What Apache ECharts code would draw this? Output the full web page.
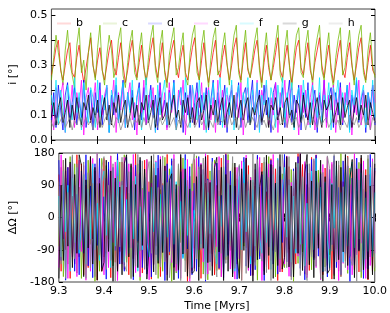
<!DOCTYPE html>
<html>
<head>
<meta charset="utf-8">
<script src="https://cdn.jsdelivr.net/npm/echarts@6/dist/echarts.min.js"></script>
<style>html,body{margin:0;padding:0;background:#fff}#c{width:390px;height:313px}</style>
</head>
<body>
<div id="c"></div>
<script>
const NAMES = ['b','c','d','e','f','g','h'];
const COLORS = ['#ff0000','#70b800','#0000ff','#ff00ff','#00e5ff','#000000','#888888'];
const X_TICKS = [9.3,9.4,9.5,9.6,9.7,9.8,9.9,10.0];
const TIME = [
9.300,9.305,9.310,9.315,9.320,9.325,9.330,9.335,9.340,9.345,
9.350,9.355,9.360,9.365,9.370,9.375,9.380,9.385,9.390,9.395,
9.400,9.405,9.410,9.415,9.420,9.425,9.430,9.435,9.440,9.445,
9.450,9.455,9.460,9.465,9.470,9.475,9.480,9.485,9.490,9.495,
9.500,9.505,9.510,9.515,9.520,9.525,9.530,9.535,9.540,9.545,
9.550,9.555,9.560,9.565,9.570,9.575,9.580,9.585,9.590,9.595,
9.600,9.605,9.610,9.615,9.620,9.625,9.630,9.635,9.640,9.645,
9.650,9.655,9.660,9.665,9.670,9.675,9.680,9.685,9.690,9.695,
9.700,9.705,9.710,9.715,9.720,9.725,9.730,9.735,9.740,9.745,
9.750,9.755,9.760,9.765,9.770,9.775,9.780,9.785,9.790,9.795,
9.800,9.805,9.810,9.815,9.820,9.825,9.830,9.835,9.840,9.845,
9.850,9.855,9.860,9.865,9.870,9.875,9.880,9.885,9.890,9.895,
9.900,9.905,9.910,9.915,9.920,9.925,9.930,9.935,9.940,9.945,
9.950,9.955,9.960,9.965,9.970,9.975,9.980,9.985,9.990,9.995,
10.000];

// inclinations [deg]
const I_B = [
.26,.31,.37,.40,.28,.24,.30,.36,.39,.27,
.25,.33,.38,.29,.23,.29,.35,.41,.30,.25,
.32,.37,.28,.24,.30,.36,.40,.29,.26,.33,
.39,.30,.23,.28,.35,.40,.31,.25,.31,.38,
.29,.24,.29,.36,.41,.30,.25,.32,.39,.28,
.23,.30,.36,.40,.29,.25,.33,.38,.27,.24,
.31,.37,.41,.30,.24,.32,.39,.29,.23,.29,
.35,.40,.28,.25,.33,.38,.30,.24,.30,.37,
.41,.29,.24,.32,.39,.28,.25,.30,.36,.40,
.30,.23,.31,.38,.29,.24,.29,.35,.41,.28,
.25,.32,.38,.30,.23,.30,.37,.40,.29,.26,
.33,.39,.28,.24,.31,.36,.41,.30,.25,.32,
.38,.29,.23,.29,.35,.40,.28,.25,.33,.39,
.30,.24,.30,.37,.41,.29,.24,.31,.38,.28,
.26];
const I_C = [
.24,.33,.42,.35,.29,.22,.36,.44,.31,.26,
.21,.38,.45,.27,.32,.20,.35,.43,.30,.24,
.37,.46,.28,.22,.34,.42,.36,.25,.29,.40,
.45,.26,.21,.31,.39,.44,.27,.24,.36,.43,
.30,.22,.33,.41,.46,.28,.23,.38,.44,.27,
.21,.34,.40,.45,.26,.29,.37,.43,.25,.22,
.35,.42,.46,.27,.24,.38,.44,.30,.21,.33,
.41,.45,.26,.28,.37,.43,.31,.22,.34,.42,
.46,.27,.23,.36,.44,.29,.25,.33,.40,.45,
.28,.21,.35,.43,.31,.24,.32,.39,.46,.26,
.23,.37,.44,.29,.20,.34,.42,.45,.27,.25,
.38,.44,.30,.22,.35,.41,.46,.28,.24,.36,
.43,.27,.21,.33,.40,.45,.26,.29,.37,.44,
.31,.22,.34,.42,.46,.27,.23,.36,.43,.30,
.25];
const I_D = [
.08,.19,.05,.22,.12,.04,.18,.23,.07,.15,
.21,.06,.17,.09,.24,.05,.14,.20,.04,.19,
.11,.23,.06,.16,.21,.03,.18,.10,.22,.07,
.15,.24,.05,.19,.12,.20,.04,.17,.23,.08,
.21,.06,.14,.22,.09,.18,.04,.23,.11,.16,
.05,.20,.13,.24,.06,.17,.21,.03,.19,.10,
.22,.07,.15,.23,.05,.18,.12,.21,.04,.16,
.24,.08,.19,.06,.14,.22,.03,.17,.20,.09,
.13,.23,.05,.18,.21,.07,.16,.24,.04,.12,
.20,.06,.22,.10,.17,.03,.19,.23,.08,.14,
.21,.05,.16,.24,.07,.18,.11,.22,.04,.19,
.09,.23,.06,.15,.20,.03,.18,.12,.24,.07,
.17,.21,.05,.19,.10,.23,.06,.14,.22,.04,
.18,.11,.24,.07,.16,.20,.03,.19,.13,.22,
.06];
const I_E = [
.14,.04,.21,.09,.18,.23,.03,.16,.11,.22,
.05,.19,.13,.24,.02,.17,.21,.07,.15,.23,
.04,.20,.10,.18,.22,.06,.14,.24,.03,.19,
.12,.21,.05,.17,.23,.08,.15,.02,.20,.11,
.24,.06,.18,.13,.21,.03,.16,.22,.09,.19,
.04,.23,.11,.17,.05,.20,.14,.24,.02,.18,
.10,.22,.06,.19,.13,.23,.04,.16,.21,.08,
.17,.03,.24,.12,.20,.05,.18,.14,.22,.06,
.19,.09,.23,.02,.16,.21,.07,.18,.12,.24,
.04,.20,.15,.22,.06,.17,.10,.23,.03,.19,
.13,.24,.05,.18,.21,.08,.16,.02,.22,.11,
.20,.06,.17,.23,.04,.15,.19,.09,.24,.05,
.18,.12,.22,.03,.16,.21,.07,.19,.14,.23,
.02,.17,.10,.24,.06,.20,.13,.18,.04,.22,
.15];
const I_F = [
.18,.10,.24,.06,.20,.13,.03,.22,.16,.08,
.25,.11,.19,.04,.23,.14,.07,.21,.17,.05,
.24,.09,.18,.12,.22,.03,.20,.15,.25,.07,
.16,.23,.05,.19,.11,.24,.08,.17,.21,.04,
.13,.25,.07,.20,.15,.03,.22,.10,.18,.24,
.06,.19,.12,.23,.04,.17,.21,.09,.25,.14,
.05,.22,.16,.08,.24,.11,.19,.03,.20,.13,
.23,.07,.18,.25,.05,.15,.21,.10,.24,.04,
.17,.22,.09,.19,.13,.25,.06,.20,.11,.23,
.03,.18,.14,.24,.08,.21,.16,.05,.22,.12,
.25,.07,.19,.10,.23,.04,.17,.21,.08,.24,
.13,.20,.05,.22,.15,.09,.25,.06,.18,.12,
.23,.04,.21,.16,.24,.07,.19,.11,.22,.03,
.20,.14,.25,.08,.17,.22,.05,.19,.10,.24,
.09];
const I_G = [
.09,.15,.06,.13,.17,.07,.11,.16,.05,.14,
.08,.17,.10,.06,.15,.12,.18,.07,.13,.09,
.16,.05,.12,.17,.08,.14,.06,.15,.11,.18,
.07,.13,.16,.05,.10,.17,.09,.14,.06,.15,
.12,.18,.07,.11,.16,.05,.13,.17,.08,.10,
.15,.06,.14,.18,.09,.12,.05,.16,.11,.17,
.07,.13,.06,.15,.17,.08,.12,.18,.05,.14,
.10,.16,.07,.13,.17,.06,.11,.15,.09,.18,
.05,.12,.16,.08,.14,.17,.06,.13,.10,.15,
.18,.07,.11,.16,.05,.14,.12,.17,.08,.13,
.06,.15,.17,.09,.12,.05,.16,.14,.07,.18,
.11,.08,.15,.06,.13,.17,.10,.05,.16,.12,
.14,.18,.07,.11,.15,.06,.17,.09,.13,.16,
.05,.12,.17,.08,.14,.10,.18,.06,.15,.11,
.07];
const I_H = [
.07,.05,.09,.06,.08,.10,.05,.07,.09,.04,
.08,.06,.10,.05,.07,.09,.06,.08,.04,.10,
.06,.09,.05,.08,.10,.06,.07,.05,.09,.08,
.04,.07,.10,.06,.09,.05,.08,.07,.10,.05,
.09,.06,.08,.04,.10,.07,.05,.09,.06,.08,
.10,.05,.07,.09,.04,.08,.06,.10,.07,.05,
.08,.09,.05,.07,.10,.06,.08,.04,.09,.07,
.05,.10,.06,.08,.07,.09,.05,.10,.06,.08,
.09,.04,.07,.10,.05,.08,.06,.09,.07,.05,
.10,.06,.08,.05,.09,.07,.04,.08,.10,.06,
.07,.09,.05,.10,.06,.08,.09,.05,.07,.10,
.04,.08,.06,.09,.07,.05,.10,.06,.08,.09,
.05,.07,.10,.06,.08,.04,.09,.07,.05,.10,
.08,.06,.09,.05,.07,.10,.06,.08,.04,.09,
.07];

// node differences [deg]
const DO_B = [
120,-150,160,-90,140,-170,60,-130,175,-110,
150,-160,90,-140,170,-60,130,-175,110,-150,
165,-100,135,-168,75,-125,172,-95,155,-145,
85,-160,145,-115,178,-70,125,-155,160,-135,
100,-172,150,-80,138,-165,95,-120,176,-105,
158,-140,70,-150,168,-90,132,-178,115,-148,
162,-95,140,-170,80,-128,174,-100,150,-160,
90,-145,166,-118,178,-75,128,-158,140,-130,
105,-175,155,-85,145,-162,98,-125,170,-108,
152,-150,72,-145,164,-92,136,-176,118,-152,
160,-98,142,-166,82,-130,178,-104,148,-158,
92,-148,168,-112,175,-78,126,-160,138,-134,
108,-172,158,-88,146,-164,100,-122,171,-112,
150,-146,74,-152,166,-94,134,-174,120,-150,
130];
const DO_C = [
-80,140,-165,110,-130,170,-100,150,-155,85,
-170,120,-145,160,-75,135,-178,95,-150,165,
-110,145,-60,172,-135,100,-160,155,-90,175,
-125,68,-168,140,-105,150,-176,82,-140,162,
-95,158,-130,115,-170,78,-150,168,-112,136,
-178,92,-155,145,-70,166,-120,104,-162,150,
-86,172,-138,120,-158,96,-174,130,-102,160,
-148,74,-165,142,-118,176,-92,152,-135,108,
-170,128,-80,162,-145,112,-160,88,-175,140,
-100,155,-132,170,-72,146,-166,98,-152,122,
-140,166,-88,134,-178,106,-128,174,-96,150,
-160,84,-146,158,-114,132,-172,76,-138,168,
-104,148,-162,92,-150,178,-84,126,-156,138,
-120,172,-98,154,-168,80,-142,164,-110,144,
-150];
const DO_D = [
160,-120,95,-175,140,-85,170,-150,65,-160,
130,-100,175,-135,88,-168,150,-78,165,-140,
58,-172,155,-118,140,-92,178,-130,102,-150,
168,-84,126,-174,146,-66,160,-140,112,-158,
72,-166,138,-104,174,-128,90,-176,150,-96,
164,-138,80,-170,128,-112,176,-88,142,-160,
96,-150,170,-74,134,-178,108,-124,166,-98,
152,-142,62,-168,176,-106,130,-154,88,-172,
144,-90,168,-136,100,-162,78,-146,174,-116,
120,-176,154,-82,160,-130,94,-158,142,-70,
176,-124,106,-164,136,-98,170,-142,66,-174,
148,-86,162,-118,174,-108,122,-152,96,-166,
134,-76,172,-140,84,-160,158,-100,144,-178,
110,-132,166,-90,150,-170,72,-144,176,-104,
138];
const DO_E = [
-140,175,-60,130,-170,150,-110,90,-165,160,
-95,145,-175,70,-150,165,-120,178,-85,135,
-160,110,-140,172,-70,155,-176,100,-130,168,
-108,150,-85,176,-154,120,-166,78,-145,162,
-174,96,-132,158,-112,170,-68,144,-160,118,
-126,176,-150,88,-170,136,-100,162,-178,74,
-142,166,-90,152,-124,178,-158,104,-136,150,
-82,170,-166,128,-104,160,-144,92,-172,140,
-116,158,-70,174,-148,112,-162,134,-94,168,
-176,86,-138,150,-120,176,-80,164,-152,106,
-130,172,-164,98,-146,140,-108,178,-74,156,
-168,124,-96,162,-140,82,-174,148,-114,170,
-88,154,-158,116,-176,102,-128,166,-146,92,
-160,178,-104,136,-72,158,-170,120,-134,164,
-100];
const DO_F = [
60,-110,130,-40,90,-150,110,-70,140,-100,
-20,120,-130,80,-60,150,-90,40,-120,100,
130,-50,70,-140,110,-80,160,-30,90,-125,
50,-100,140,-60,115,-150,30,-90,125,-70,
-110,85,-40,155,-120,65,-95,130,-55,105,
145,-75,100,-135,45,-115,160,-50,80,-140,
20,-105,135,-85,120,-160,70,-45,150,-95,
-130,60,-25,140,-110,95,-65,125,-150,35,
115,-90,155,-40,75,-130,105,-80,145,-60,
-100,130,-70,50,-145,120,-35,165,-115,80,
140,-55,90,-125,60,-100,150,-75,110,-135,
40,-120,130,-90,165,-45,85,-150,100,-65,
-140,95,-30,145,-105,70,-125,135,-80,115,
155,-85,110,-60,125,-140,55,-95,140,-110,
70];
const DO_G = [
-170,90,-120,165,-80,155,-140,120,-100,175,
145,-165,105,-85,170,-130,140,-175,95,-150,
-125,160,-95,130,-178,110,-150,85,-160,150,
175,-110,150,-165,92,-140,168,-78,135,-172,
-88,172,-152,118,-128,162,-98,144,-176,104,
122,-174,92,-146,176,-102,136,-164,80,-156,
-150,114,-176,148,-86,170,-126,98,-162,140,
168,-96,140,-176,120,-150,90,-166,152,-110,
-170,136,-92,166,-140,104,-178,150,-118,86,
128,-160,174,-106,148,-170,96,-134,176,-144,
-112,170,-138,88,-166,154,-100,178,-148,124,
176,-132,102,-168,130,-86,160,-178,114,-156,
-146,92,-172,158,-118,140,-96,176,-134,110,
162,-168,136,-94,174,-146,118,-172,88,-160,
150];
const DO_H = [
100,-130,160,-170,70,-145,175,-115,150,-90,
-60,155,-170,125,-140,95,-165,178,-105,140,
170,-145,90,-120,150,-178,115,-82,168,-132,
-150,128,-172,102,-136,176,-94,158,-144,120,
156,-100,176,-160,84,-138,172,-124,98,-168,
-92,164,-130,150,-176,108,-152,88,-170,134,
178,-116,142,-90,166,-174,104,-148,156,-96,
-166,132,-100,174,-128,152,-80,170,-142,116,
148,-176,96,-156,120,-108,178,-134,162,-86,
-122,168,-154,112,-176,140,-96,160,-118,176,
102,-140,170,-174,130,-88,152,-162,114,-144,
-176,150,-110,164,-136,98,-170,126,-150,172,
138,-94,176,-124,158,-166,86,-140,168,-106,
-134,162,-178,104,-152,132,-116,174,-90,156,
-140];

const INC = [I_B,I_C,I_D,I_E,I_F,I_G,I_H];
const DNODE = [DO_B,DO_C,DO_D,DO_E,DO_F,DO_G,DO_H];

const FONT = 'DejaVu Sans';
const chart = echarts.init(document.getElementById('c'), null, {renderer:'canvas'});

function pairs(vals){ return vals.map((v,i)=>[TIME[i], v]); }

const series = [];
NAMES.forEach((n,k)=>{
  series.push({name:n, type:'line', xAxisIndex:0, yAxisIndex:0, data:pairs(INC[k]),
    showSymbol:false, symbol:'none', silent:true,
    lineStyle:{width:1, color:COLORS[k], opacity:0.75}, itemStyle:{color:COLORS[k]}});
});
NAMES.forEach((n,k)=>{
  series.push({name:n, type:'line', xAxisIndex:1, yAxisIndex:1, data:pairs(DNODE[k]),
    showSymbol:false, symbol:'none', silent:true,
    lineStyle:{width:1, color:COLORS[k], opacity:0.8}, itemStyle:{color:COLORS[k]}});
});

const tickStyle = {show:true, inside:true, length:4, lineStyle:{color:'#000', width:1}};
const lbl = {color:'#000', fontFamily:FONT, fontSize:11};

function xAx(grid, showLabels, pos){
  return {type:'value', gridIndex:grid, min:9.3, max:10.0, interval:0.1, position:pos,
    axisLine:{show:false}, splitLine:{show:false}, axisTick:tickStyle,
    axisLabel: showLabels ? Object.assign({margin:4, formatter:v=>v.toFixed(1)}, lbl) : {show:false},
    name: showLabels ? 'Time [Myrs]' : '', nameLocation:'middle', nameGap:19,
    nameTextStyle:{color:'#000', fontFamily:FONT, fontSize:11}};
}

const option = {
  animation:false,
  backgroundColor:'#fff',
  grid:[
    {left:43, right:15, top:9, height:131, show:true, borderColor:'#444', borderWidth:1, backgroundColor:'transparent'},
    {left:43, right:15, top:153, height:130, show:true, borderColor:'#444', borderWidth:1, backgroundColor:'transparent'}
  ],
  legend:{
    data:NAMES, left:52, top:13, orient:'horizontal', icon:'rect', itemWidth:14, itemHeight:2, itemGap:20,
    itemStyle:{opacity:0.15},
    textStyle:{color:'#000', fontFamily:FONT, fontSize:11, width:10},
    selectedMode:false
  },
  xAxis:[ xAx(0,false,'bottom'), xAx(1,true,'bottom'), xAx(0,false,'top'), xAx(1,false,'top') ],
  yAxis:[
    {type:'value', gridIndex:0, min:0, max:0.525, interval:0.1, name:'i [°]', nameLocation:'middle', nameGap:31,
     nameTextStyle:{color:'#000', fontFamily:FONT, fontSize:11},
     axisLine:{show:false}, splitLine:{show:false}, axisTick:tickStyle,
     axisLabel:Object.assign({margin:4, showMaxLabel:false, formatter:v=>v.toFixed(1)}, lbl)},
    {type:'value', gridIndex:1, min:-180, max:180, interval:90, name:'ΔΩ [°]', nameLocation:'middle', nameGap:31,
     nameTextStyle:{color:'#000', fontFamily:FONT, fontSize:11},
     axisLine:{show:false}, splitLine:{show:false}, axisTick:tickStyle,
     axisLabel:Object.assign({margin:4}, lbl)},
    {type:'value', gridIndex:0, min:0, max:0.525, interval:0.1, position:'right',
     axisLine:{show:false}, splitLine:{show:false}, axisTick:tickStyle, axisLabel:{show:false}},
    {type:'value', gridIndex:1, min:-180, max:180, interval:90, position:'right',
     axisLine:{show:false}, splitLine:{show:false}, axisTick:tickStyle, axisLabel:{show:false}}
  ],
  series:series
};
chart.setOption(option);
</script>
</body>
</html>
